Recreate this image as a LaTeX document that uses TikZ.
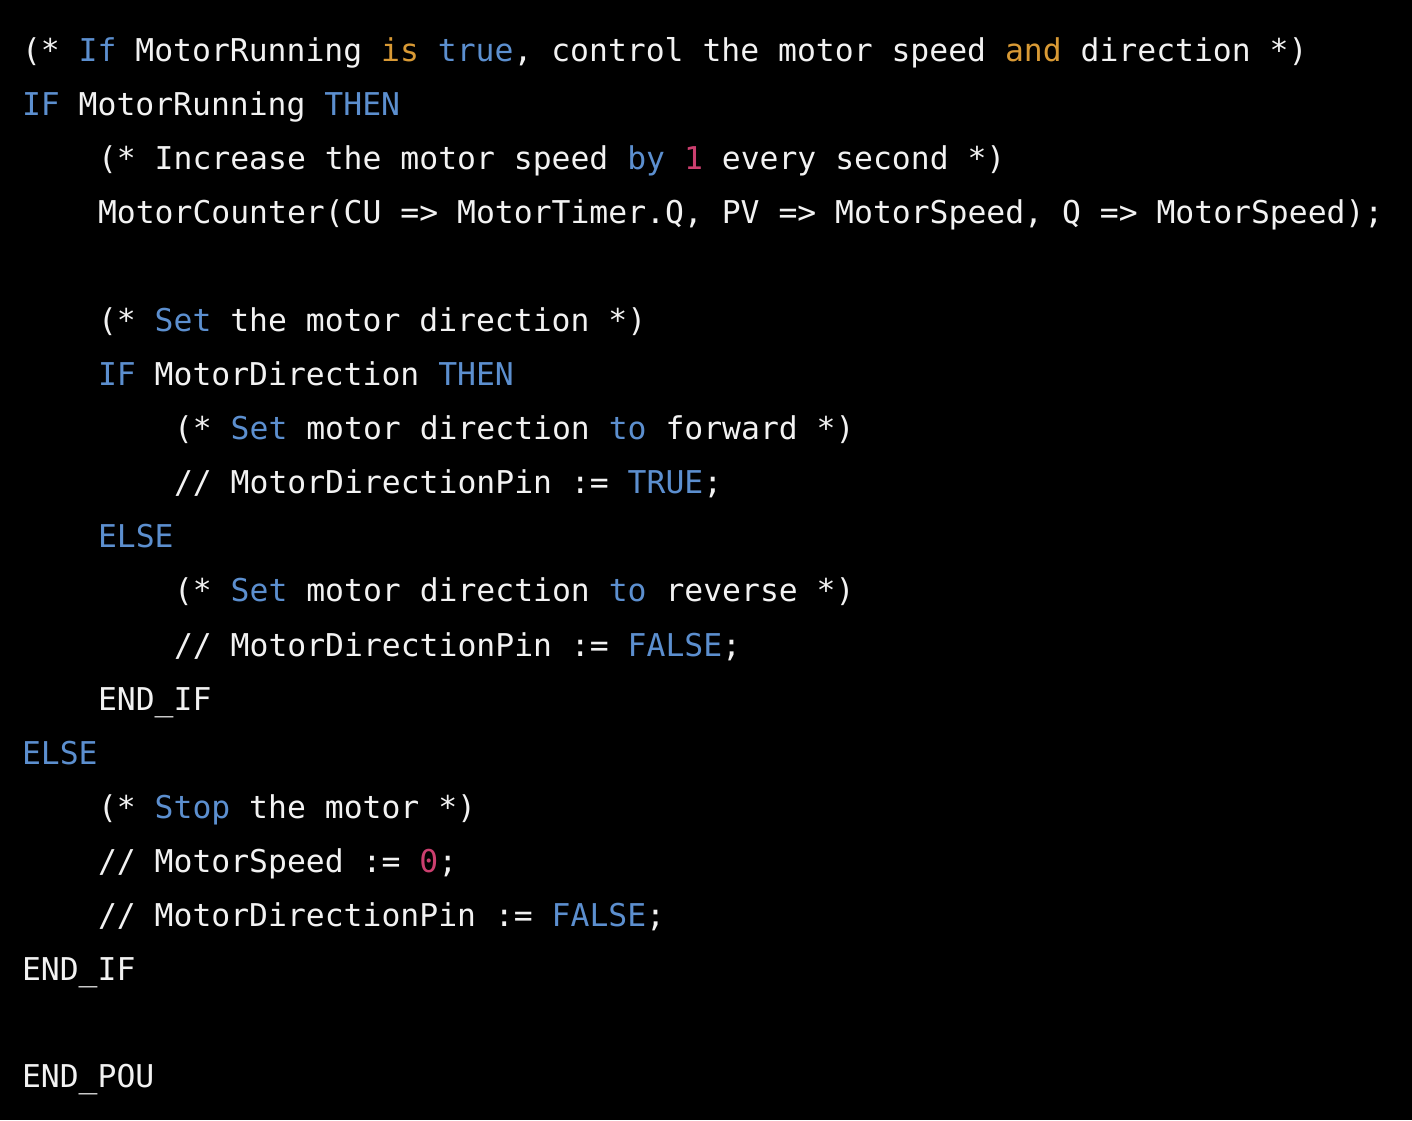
\documentclass[tikz,border=0pt]{standalone}
\usepackage{fontspec}
\setmonofont{DejaVu Sans Mono}
\definecolor{kwblue}{HTML}{5C8FCF}
\definecolor{kworange}{HTML}{D99A35}
\definecolor{kwpink}{HTML}{CC3F6F}
\definecolor{txt}{HTML}{F2F2F2}
\newcommand{\kb}[1]{\textcolor{kwblue}{#1}}
\newcommand{\ko}[1]{\textcolor{kworange}{#1}}
\newcommand{\kp}[1]{\textcolor{kwpink}{#1}}
\begin{document}
\begin{tikzpicture}[x=1pt,y=1pt,
  codeline/.style={anchor=base west,inner sep=0pt,outer sep=0pt,text=txt,
    font=\ttfamily\fontsize{31.4}{54}\selectfont}]
\fill[black] (0,0) rectangle (1412,-1120);
\useasboundingbox (0,0) rectangle (1412,-1120);
\def\Lx{22}\def\Ly{98}\def\Lz{174}
\node[codeline] (l1) at (\Lx,-61) {(* \kb{If} MotorRunning \ko{is} \kb{true}, control the motor speed \ko{and} direction *)};
\node[codeline] (l2) at (\Lx,-115) {\kb{IF} MotorRunning \kb{THEN}};
\node[codeline] (l3) at (\Ly,-169) {(* Increase the motor speed \kb{by} \kp{1} every second *)};
\node[codeline] (l4) at (\Ly,-223) {MotorCounter(CU => MotorTimer.Q, PV => MotorSpeed, Q => MotorSpeed);};
\node[codeline] (l6) at (\Ly,-331) {(* \kb{Set} the motor direction *)};
\node[codeline] (l7) at (\Ly,-385) {\kb{IF} MotorDirection \kb{THEN}};
\node[codeline] (l8) at (\Lz,-439) {(* \kb{Set} motor direction \kb{to} forward *)};
\node[codeline] (l9) at (\Lz,-493) {// MotorDirectionPin := \kb{TRUE};};
\node[codeline] (l10) at (\Ly,-547) {\kb{ELSE}};
\node[codeline] (l11) at (\Lz,-601) {(* \kb{Set} motor direction \kb{to} reverse *)};
\node[codeline] (l12) at (\Lz,-656) {// MotorDirectionPin := \kb{FALSE};};
\node[codeline] (l13) at (\Ly,-710) {END\_IF};
\node[codeline] (l14) at (\Lx,-764) {\kb{ELSE}};
\node[codeline] (l15) at (\Ly,-818) {(* \kb{Stop} the motor *)};
\node[codeline] (l16) at (\Ly,-872) {// MotorSpeed := \kp{0};};
\node[codeline] (l17) at (\Ly,-926) {// MotorDirectionPin := \kb{FALSE};};
\node[codeline] (l18) at (\Lx,-980) {END\_IF};
\node[codeline] (l20) at (\Lx,-1087) {END\_POU};
\end{tikzpicture}
\end{document}
